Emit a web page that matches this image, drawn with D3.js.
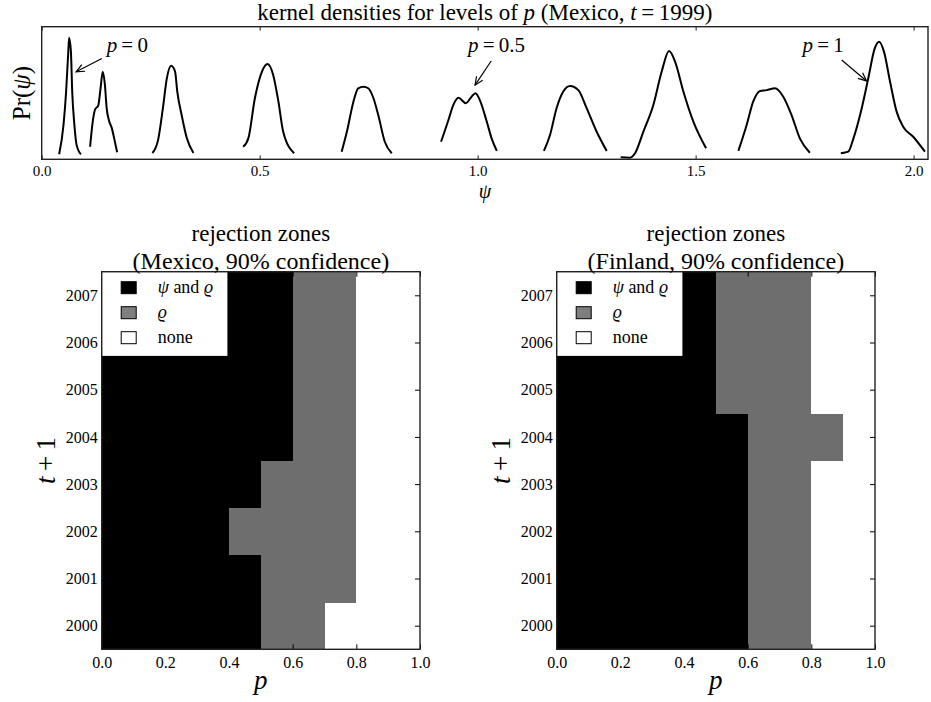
<!DOCTYPE html>
<html><head><meta charset="utf-8">
<script src="https://cdn.jsdelivr.net/npm/d3@7"></script>
<style>
body{margin:0;background:#fff}
svg text{font-family:"Liberation Serif","Times New Roman","DejaVu Serif",serif;fill:#000}
</style>
</head><body>
<svg id="chart" width="931" height="702" font-family="Liberation Serif, serif"></svg>
<script>
// ---------------- data ----------------
const densityLevels = ["0","0.1","0.2","0.3","0.4","0.5","0.6","0.7","0.8","1"];
const densityCurve0 = [[0.040,1.3],[0.050,12.5],[0.056,25.2],[0.061,40.5],[0.063,45.8],[0.067,40.5],[0.070,25.2],[0.075,12.5],[0.080,4.9],[0.090,1.3]];
const densityCurve1 = [[0.111,4.2],[0.117,13.7],[0.122,18.2],[0.130,20.1],[0.135,26.5],[0.140,32.8],[0.145,27.8],[0.149,18.9],[0.154,14.4],[0.161,11.2],[0.167,6.8],[0.173,2.1]];
const densityCurve2 = [[0.254,1.8],[0.267,6.8],[0.278,18.9],[0.287,30.3],[0.297,35.1],[0.306,32.8],[0.311,25.2],[0.321,16.3],[0.333,7.4],[0.348,1.8]];
const densityCurve3 = [[0.462,4.2],[0.474,7.4],[0.489,22.7],[0.505,32.8],[0.518,35.8],[0.531,31.6],[0.543,21.4],[0.554,9.9],[0.579,1.7]];
const densityCurve4 = [[0.688,2.3],[0.700,9.9],[0.715,21.4],[0.726,26.5],[0.738,27.1],[0.749,26.5],[0.761,22.7],[0.772,16.3],[0.787,6.1],[0.803,1.7]];
const densityCurve5 = [[0.916,6.1],[0.933,14.4],[0.944,20.1],[0.956,22.9],[0.973,20.8],[0.986,23.3],[0.995,24.6],[1.005,22.0],[1.021,13.7],[1.032,7.4],[1.044,2.6]];
const densityCurve6 = [[1.152,2.6],[1.166,8.7],[1.181,18.9],[1.196,25.2],[1.212,27.4],[1.231,25.8],[1.250,18.9],[1.273,9.9],[1.296,2.6]];
const densityCurve7 = [[1.328,0.15],[1.349,0.0],[1.361,1.7],[1.380,9.9],[1.403,20.1],[1.422,32.8],[1.439,40.7],[1.453,36.6],[1.472,25.2],[1.495,13.7],[1.524,3.6]];
const densityCurve8 = [[1.598,2.6],[1.617,12.5],[1.632,21.4],[1.648,25.5],[1.663,25.8],[1.682,26.5],[1.701,23.3],[1.720,16.3],[1.739,7.4],[1.762,1.9]];
const densityCurve9 = [[1.833,1.7],[1.850,2.3],[1.862,7.4],[1.881,18.9],[1.896,30.3],[1.911,41.8],[1.921,44.3],[1.932,40.5],[1.946,29.0],[1.961,17.6],[1.976,11.8],[1.999,8.0],[2.026,2.3]];
const densityCurves = [densityCurve0,densityCurve1,densityCurve2,densityCurve3,densityCurve4,densityCurve5,densityCurve6,densityCurve7,densityCurve8,densityCurve9];
const psiTicks = [0, 0.5, 1.0, 1.5, 2.0];
// annotations: label value, text anchor [psi, Pr], arrow tail, arrow tip
const annotLabels = ["0", "0.5", "1"];
const annotText = [[0.149,40.5],[0.978,40.3],[1.745,40.3]];
const annotTail = [[0.138,37.9],[1.031,36.9],[1.835,37.3]];
const annotTip  = [[0.079,32.8],[0.994,27.7],[1.892,29.3]];

const years = [2000,2001,2002,2003,2004,2005,2006,2007];
const pColumns = [0,0.1,0.2,0.3,0.4,0.5,0.6,0.7,0.8,0.9];
const pTicks = [0,0.2,0.4,0.6,0.8,1.0];
// 2 = psi and rho rejected, 1 = rho rejected, 0 = none ; one row per year
const mexicoZones = [
  [2,2,2,2,2,1,1,0,0,0],
  [2,2,2,2,2,1,1,1,0,0],
  [2,2,2,2,1,1,1,1,0,0],
  [2,2,2,2,2,1,1,1,0,0],
  [2,2,2,2,2,2,1,1,0,0],
  [2,2,2,2,2,2,1,1,0,0],
  [2,2,2,2,2,2,1,1,0,0],
  [2,2,2,2,2,2,1,1,0,0]
];
const finlandZones = [
  [2,2,2,2,2,2,1,1,0,0],
  [2,2,2,2,2,2,1,1,0,0],
  [2,2,2,2,2,2,1,1,0,0],
  [2,2,2,2,2,2,1,1,0,0],
  [2,2,2,2,2,2,1,1,1,0],
  [2,2,2,2,2,1,1,1,0,0],
  [2,2,2,2,2,1,1,1,0,0],
  [2,2,2,2,2,1,1,1,0,0]
];
const zoneCodes = [2,1,0];

// ---------------- drawing ----------------
const SERIF = "'Liberation Serif','Times New Roman',serif";
const svg = d3.select("#chart");
const frameColor = "#222";

// ----- top panel -----
const TB = {left:41.7, right:928, top:26.7, bottom:159.3};
const xT = d3.scaleLinear([0, 2.033], [TB.left, TB.right]);
const yT = d3.scaleLinear([-0.6, 50], [TB.bottom, TB.top]);
const gT = svg.append("g");

const line = d3.line().x(d=>xT(d[0])).y(d=>yT(d[1])).curve(d3.curveMonotoneX);
gT.selectAll("path.curve").data(densityCurves).join("path")
  .attr("class","curve").attr("d", line)
  .attr("fill","none").attr("stroke","#000").attr("stroke-width",2).attr("stroke-linejoin","round");

const axB = gT.append("g").attr("transform",`translate(0,${TB.bottom})`)
  .call(d3.axisBottom(xT).tickValues(psiTicks).tickSize(-4).tickPadding(6).tickFormat(d3.format(".1f")));
axB.attr("font-family",null).attr("font-size",null);
axB.select(".domain").remove();
axB.selectAll("text").style("font-size","15px").style("font-family",SERIF);
axB.selectAll("line").attr("stroke",frameColor);
const axTop = gT.append("g").attr("transform",`translate(0,${TB.top})`)
  .call(d3.axisTop(xT).tickValues(psiTicks).tickSize(-4).tickFormat(""));
axTop.select(".domain").remove();
axTop.selectAll("line").attr("stroke",frameColor);
gT.append("rect").attr("x",TB.left).attr("y",TB.top).attr("width",TB.right-TB.left).attr("height",TB.bottom-TB.top)
  .attr("fill","none").attr("stroke",frameColor).attr("stroke-width",1.4);

// annotations
annotLabels.forEach((lab,i)=>{
  const t = gT.append("text").attr("x",xT(annotText[i][0])).attr("y",yT(annotText[i][1])).style("font-size","21px").style("font-family",SERIF);
  t.append("tspan").attr("font-style","italic").text("p");
  t.append("tspan").text("\u2009=\u2009"+lab);
  const x1=xT(annotTail[i][0]), y1=yT(annotTail[i][1]), x2=xT(annotTip[i][0]), y2=yT(annotTip[i][1]);
  gT.append("line").attr("x1",x1).attr("y1",y1).attr("x2",x2).attr("y2",y2).attr("stroke","#000").attr("stroke-width",1.2);
  const ang = Math.atan2(y2-y1, x2-x1), hl = 9, ha = 0.42;
  const p = d3.path();
  p.moveTo(x2 - hl*Math.cos(ang-ha), y2 - hl*Math.sin(ang-ha));
  p.lineTo(x2,y2);
  p.lineTo(x2 - hl*Math.cos(ang+ha), y2 - hl*Math.sin(ang+ha));
  gT.append("path").attr("d",p.toString()).attr("fill","none").attr("stroke","#000").attr("stroke-width",1.2);
});

// titles / labels top
const ttl = svg.append("text").attr("x",(TB.left+TB.right)/2).attr("y",20).attr("text-anchor","middle").style("font-size","23px").style("font-family",SERIF);
ttl.append("tspan").text("kernel densities for levels of ");
ttl.append("tspan").attr("font-style","italic").text("p");
ttl.append("tspan").text(" (Mexico, ");
ttl.append("tspan").attr("font-style","italic").text("t");
ttl.append("tspan").text("\u2009=\u20091999)");

svg.append("text").attr("x",(TB.left+TB.right)/2).attr("y",198).attr("text-anchor","middle")
  .attr("font-style","italic").style("font-size","20px").style("font-family",SERIF).text("ψ");
const yl = svg.append("text").attr("transform",`translate(30,${(TB.top+TB.bottom)/2}) rotate(-90)`).attr("text-anchor","middle").style("font-size","25px").style("font-family",SERIF);
yl.append("tspan").text("Pr(");
yl.append("tspan").attr("font-style","italic").text("ψ");
yl.append("tspan").text(")");

// ----- heatmaps -----
const zoneColor = {2:"#000000", 1:"#6e6e6e", 0:"#ffffff"};
const legendColor = {2:"#000000", 1:"#7f7f7f", 0:"#ffffff"};

function heatmap(left, country, zones){
  const H = {left:left, right:left+318.3, top:271.7, bottom:649.3};
  const x = d3.scaleLinear([0,1],[H.left,H.right]);
  const y = d3.scaleLinear([1999.5,2007.5],[H.bottom,H.top]);
  const g = svg.append("g");
  const cells = [];
  years.forEach((yr,r)=>pColumns.forEach((p,c)=>cells.push({yr, p, v:zones[r][c]})));
  g.append("g").attr("shape-rendering","crispEdges").selectAll("rect").data(cells).join("rect")
    .attr("x",d=>x(d.p)).attr("y",d=>y(d.yr+0.5))
    .attr("width",d=>x(d.p+0.1)-x(d.p)+0.5).attr("height",d=>y(d.yr-0.5)-y(d.yr+0.5)+0.5)
    .attr("fill",d=>zoneColor[d.v]);

  const fmtAxis = (sel)=>{ sel.attr("font-family",null).attr("font-size",null); sel.select(".domain").remove(); sel.selectAll("line").attr("stroke","#000"); sel.selectAll("text").style("font-size","16px").style("font-family",SERIF); };
  g.append("g").attr("transform",`translate(0,${H.bottom})`)
    .call(d3.axisBottom(x).tickValues(pTicks).tickSize(-5).tickPadding(7).tickFormat(d3.format(".1f"))).call(fmtAxis);
  g.append("g").attr("transform",`translate(0,${H.top})`)
    .call(d3.axisTop(x).tickValues(pTicks).tickSize(-5).tickFormat("")).call(fmtAxis);
  g.append("g").attr("transform",`translate(${H.left},0)`)
    .call(d3.axisLeft(y).tickValues(years).tickSize(-5).tickPadding(4).tickFormat(d3.format("d"))).call(fmtAxis);
  g.append("g").attr("transform",`translate(${H.right},0)`)
    .call(d3.axisRight(y).tickValues(years).tickSize(-5).tickFormat("")).call(fmtAxis);
  g.append("rect").attr("x",H.left).attr("y",H.top).attr("width",H.right-H.left).attr("height",H.bottom-H.top)
    .attr("fill","none").attr("stroke",frameColor).attr("stroke-width",1.4);

  // legend
  const lg = g.append("g");
  lg.append("rect").attr("x",H.left+0.7).attr("y",H.top+0.7).attr("width",125).attr("height",83.5).attr("fill","#fff");
  zoneCodes.forEach((code,i)=>{
    const cy = H.top + 16 + i*25;
    lg.append("rect").attr("x",H.left+19.5).attr("y",cy-6).attr("width",15).attr("height",12)
      .attr("fill",legendColor[code]).attr("stroke","#000").attr("stroke-width",1);
    const t = lg.append("text").attr("x",H.left+56).attr("y",cy+5.5).style("font-size","18px").style("font-family",SERIF);
    if(code===2){ t.append("tspan").attr("font-style","italic").text("ψ"); t.append("tspan").text(" and "); t.append("tspan").attr("font-style","italic").text("ϱ"); }
    else if(code===1){ t.append("tspan").attr("font-style","italic").text("ϱ"); }
    else { t.text("none"); }
  });

  // titles
  const cx = (H.left+H.right)/2;
  svg.append("text").attr("x",cx).attr("y",241).attr("text-anchor","middle").style("font-size","23px").style("font-family",SERIF).text("rejection zones");
  svg.append("text").attr("x",cx).attr("y",268.5).attr("text-anchor","middle").style("font-size","24px").style("font-family",SERIF).text(`(${country}, 90% confidence)`);
  svg.append("text").attr("x",cx).attr("y",689).attr("text-anchor","middle").attr("font-style","italic").style("font-size","27px").style("font-family",SERIF).text("p");
  const tl = svg.append("text").attr("transform",`translate(${H.left-47},${(H.top+H.bottom)/2}) rotate(-90)`).attr("text-anchor","middle").style("font-size","27px").style("font-family",SERIF);
  tl.append("tspan").attr("font-style","italic").text("t");
  tl.append("tspan").text("\u2009+\u20091");
}
heatmap(101.7, "Mexico", mexicoZones);
heatmap(556.7, "Finland", finlandZones);
</script>
</body></html>
